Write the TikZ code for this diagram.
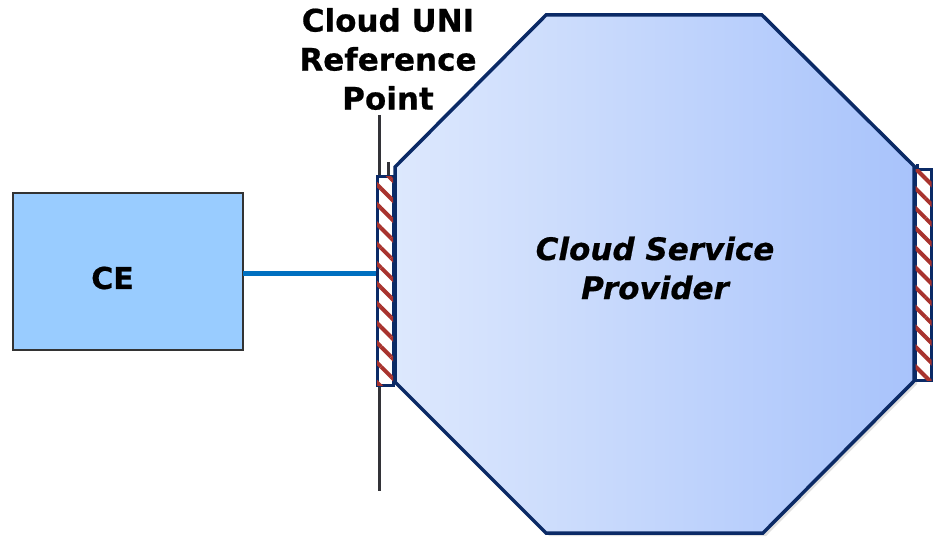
\documentclass[tikz,border=0pt]{standalone}
\usepackage{fontspec}
\setmainfont{DejaVu Sans}[BoldFeatures={FakeBold=0.6}, BoldItalicFeatures={FakeBold=0.6}]
\usetikzlibrary{patterns.meta}
\definecolor{navy}{HTML}{0B2A66}
\definecolor{octleft}{HTML}{DDE8FD}
\definecolor{octright}{HTML}{A8C3FB}
\definecolor{cefill}{HTML}{99CCFF}
\definecolor{linkblue}{HTML}{0070C0}
\definecolor{refline}{HTML}{333338}
\definecolor{hatchred}{HTML}{A8332E}
\tikzset{
  hatchbox/.style={draw=navy, line width=3pt, fill=white,
    postaction={pattern={Lines[angle=-45,distance=14pt,line width=4pt]}, pattern color=hatchred},
    minimum width=16pt, inner sep=0pt},
  cebox/.style={draw=black!80, line width=1.5pt, fill=cefill, minimum width=230pt, minimum height=157pt, inner sep=0pt},
  bigtext/.style={font=\fontsize{31}{39}\selectfont\bfseries, align=center, inner sep=0pt},
  octagonstyle/.style={draw=navy, line width=3.5pt, line join=miter, left color=octleft, right color=octright},
  link/.style={draw=linkblue, line width=5.5pt},
  refstyle/.style={draw=refline, line width=3pt}
}
\begin{document}
\begin{tikzpicture}[x=1pt,y=-1pt]
\useasboundingbox (0,0) rectangle (936,540);
% shadow
\fill[black, opacity=0.12] (549,18) -- (765,18) -- (917,169) -- (917,384) -- (766,536) -- (549,536) -- (398,385) -- (398,170) -- cycle;
% octagon
\path[octagonstyle] (546,15) -- (762,15) -- (914,166) -- (914,381) -- (763,533) -- (546,533) -- (395,382) -- (395,167) -- cycle;
\node[bigtext, font=\fontsize{31}{39}\selectfont\bfseries\itshape] (csp) at (655,268) {Cloud Service\\Provider};
% reference line
\coordinate (reftop) at (379,115);
\coordinate (refbot) at (379,491);
\draw[refstyle] (reftop) -- (refbot);
\node[bigtext] (reflabel) at (388,59) {Cloud UNI\\Reference\\Point};
% hatched interfaces
\node[hatchbox, minimum height=208pt] (uni) at (385,281) {};
\node[hatchbox, minimum height=210pt] (nni) at (923.5,275) {};
\draw[refstyle] (388,162) -- (uni.north -| 388,0);
\draw[navy, line width=3pt] (917,164) -- (nni.north -| 917,0);
% CE
\node[cebox] (ce) at (128,271.5) {};
\node[font=\fontsize{30}{36}\selectfont\bfseries, inner sep=0pt] (celabel) at (112.5,278) {CE};
\coordinate (cep) at (243,273.5);
\draw[link] (cep) -- (cep -| uni.west);
\end{tikzpicture}
\end{document}
